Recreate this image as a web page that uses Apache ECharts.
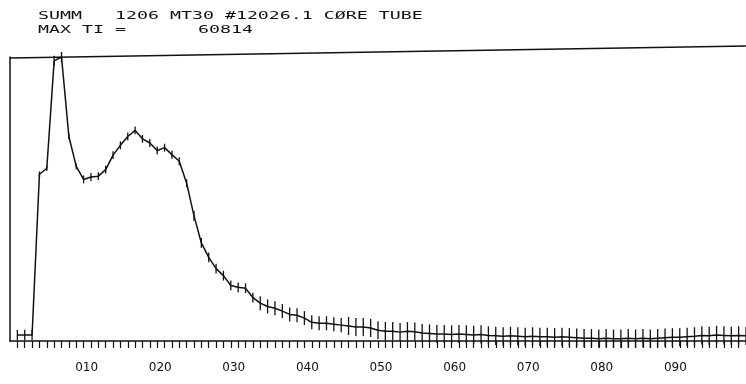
<!DOCTYPE html>
<html>
<head>
<meta charset="utf-8">
<script src="https://cdn.jsdelivr.net/npm/echarts@6/dist/echarts.min.js"></script>
<style>
  html, body { margin: 0; padding: 0; background: #fff; }
  #chart { width: 746px; height: 384px; }
</style>
</head>
<body>
<div id="chart"></div>
<script>
// Channel numbers of the spectrum
const channels = [
  1, 2, 3, 4, 5, 6, 7, 8, 9, 10,
  11, 12, 13, 14, 15, 16, 17, 18, 19, 20,
  21, 22, 23, 24, 25, 26, 27, 28, 29, 30,
  31, 32, 33, 34, 35, 36, 37, 38, 39, 40,
  41, 42, 43, 44, 45, 46, 47, 48, 49, 50,
  51, 52, 53, 54, 55, 56, 57, 58, 59, 60,
  61, 62, 63, 64, 65, 66, 67, 68, 69, 70,
  71, 72, 73, 74, 75, 76, 77, 78, 79, 80,
  81, 82, 83, 84, 85, 86, 87, 88, 89, 90,
  91, 92, 93, 94, 95, 96, 97, 98, 99, 100
];

// Summed counts per channel
const counts = [
  1300, 1300, 1300, 35700, 37000, 60000, 60814, 43800, 37400, 34600,
  35100, 35300, 36700, 39800, 41900, 43800, 45100, 43300, 42400, 40800,
  41400, 39900, 38500, 33800, 26800, 21000, 17900, 15500, 14000, 11900,
  11500, 11300, 9300, 8100, 7400, 7000, 6400, 5700, 5500, 4900,
  4000, 3800, 3800, 3600, 3400, 3200, 3000, 3000, 2800, 2300,
  2100, 2100, 1900, 2100, 2000, 1700, 1600, 1500, 1500, 1400,
  1500, 1400, 1300, 1400, 1200, 1100, 1000, 1100, 1000, 900,
  1000, 900, 900, 800, 900, 800, 700, 600, 600, 500,
  600, 500, 500, 600, 500, 600, 500, 600, 700, 800,
  800, 900, 1000, 1200, 1100, 1300, 1200, 1100, 1200, 1100
];

// Half-length of the error bar on each channel
const errors = [
  1100, 1100, 1100, 600, 600, 1100, 1100, 600, 600, 850,
  850, 850, 850, 850, 850, 850, 850, 850, 850, 850,
  850, 850, 850, 850, 1050, 1050, 1050, 1050, 1050, 1050,
  1050, 1050, 1050, 1500, 1500, 1500, 1500, 1500, 1500, 1500,
  1500, 1500, 1500, 1500, 1500, 1950, 1950, 1950, 1950, 1950,
  1950, 1950, 1950, 1950, 1950, 1950, 1950, 1950, 1950, 1950,
  1950, 1950, 1950, 1950, 1950, 1950, 1950, 1950, 1950, 1950,
  1950, 1950, 1950, 1950, 1950, 1950, 1950, 1950, 1950, 1950,
  1950, 1950, 1950, 1950, 1950, 1950, 1950, 1950, 1950, 1950,
  1950, 1950, 1950, 1950, 1950, 1950, 1950, 1950, 1950, 1950
];

// Labelled channels on the bottom axis
const tickValues = [10, 20, 30, 40, 50, 60, 70, 80, 90];
const tickLabels = ['010', '020', '030', '040', '050', '060', '070', '080', '090'];

const headerLine1 = 'SUMM   1206 MT30 #12026.1 C\u00D8RE TUBE';
const headerLine2 = 'MAX TI =';
const maxCount = 60814;

const INK = '#111';
const plotFont = '"DejaVu Sans Mono", monospace';

const lineData = channels.map((c, i) => [c, counts[i]]);
const barData = channels.map((c, i) => [c, counts[i] - errors[i], counts[i] + errors[i]]);

const chart = echarts.init(document.getElementById('chart'), null, { renderer: 'canvas' });

chart.setOption({
  animation: false,
  backgroundColor: '#fff',
  grid: { left: 10, right: 0, top: 57, bottom: 43, containLabel: false },
  xAxis: {
    type: 'value',
    min: 0,
    max: 100,
    interval: 1,
    axisLine: { show: true, lineStyle: { color: INK, width: 1.5 } },
    axisTick: { show: true, length: 7, lineStyle: { color: INK, width: 1.2 } },
    splitLine: { show: false },
    axisLabel: {
      show: true,
      margin: 21,
      color: INK,
      fontFamily: '"DejaVu Sans", sans-serif',
      fontSize: 12,
      padding: [0, 0, 0, 6],
      showMinLabel: false,
      showMaxLabel: false,
      formatter: (v) => {
        const k = tickValues.indexOf(v);
        return k >= 0 ? tickLabels[k] : '';
      }
    }
  },
  yAxis: {
    type: 'value',
    min: 0,
    max: maxCount,
    axisLine: { show: true, lineStyle: { color: INK, width: 1.5 } },
    axisTick: { show: false },
    axisLabel: { show: false },
    splitLine: { show: false }
  },
  graphic: [
    {
      type: 'text',
      x: 38, y: 11,
      scaleX: 1.66,
      style: { text: headerLine1, font: '11px ' + plotFont, fill: INK, verticalAlign: 'top' }
    },
    {
      type: 'text',
      x: 38, y: 25,
      scaleX: 1.66,
      style: { text: headerLine2, font: '11px ' + plotFont, fill: INK, verticalAlign: 'top' }
    },
    {
      type: 'text',
      x: 198, y: 25,
      scaleX: 1.66,
      style: { text: String(maxCount), font: '11px ' + plotFont, fill: INK, verticalAlign: 'top' }
    },
    {
      // upper frame edge of the plotting area
      type: 'line',
      shape: { x1: 10, y1: 58, x2: 746, y2: 46 },
      style: { stroke: INK, lineWidth: 1.6 }
    }
  ],
  series: [
    {
      type: 'line',
      data: lineData,
      showSymbol: false,
      clip: false,
      lineStyle: { color: INK, width: 1.5 },
      z: 3
    },
    {
      type: 'custom',
      data: barData,
      encode: { x: 0, y: [1, 2] },
      renderItem: (params, api) => {
        const x = api.value(0);
        const p1 = api.coord([x, api.value(1)]);
        const p2 = api.coord([x, api.value(2)]);
        return {
          type: 'line',
          shape: { x1: p1[0], y1: p1[1], x2: p2[0], y2: p2[1] },
          style: { stroke: INK, lineWidth: 1.3 }
        };
      },
      z: 4
    }
  ]
});
</script>
</body>
</html>
